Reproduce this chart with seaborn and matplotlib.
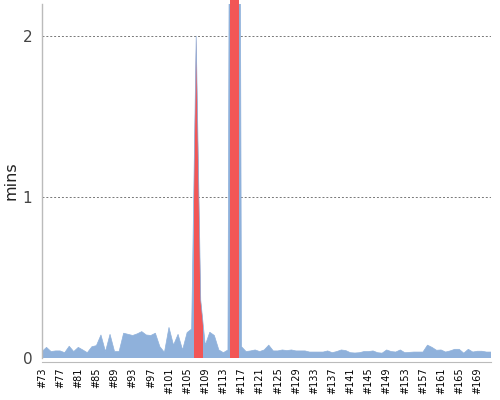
import matplotlib
matplotlib.use("Agg")
import matplotlib.pyplot as plt
from matplotlib.patches import Rectangle
import numpy as np
import pandas as pd
import seaborn as sns

# build numbers #73 .. #172
builds = ["#%d" % n for n in range(73, 173)]
minutes = [
    0.04, 0.066, 0.04, 0.044, 0.044, 0.033, 0.073, 0.04, 0.066, 0.05,
    0.033, 0.07, 0.077, 0.143, 0.04, 0.147, 0.04, 0.04, 0.154, 0.147,
    0.14, 0.15, 0.164, 0.143, 0.14, 0.154, 0.07, 0.035, 0.19, 0.08,
    0.147, 0.05, 0.158, 0.18, 2.0, 0.36, 0.08, 0.16, 0.14, 0.05,
    0.033, 0.05, 9.0, 9.0, 0.07, 0.04, 0.044, 0.05, 0.04, 0.05,
    0.08, 0.044, 0.044, 0.05, 0.046, 0.05, 0.044, 0.044, 0.044, 0.037,
    0.037, 0.037, 0.037, 0.044, 0.033, 0.04, 0.05, 0.046, 0.033, 0.031,
    0.033, 0.04, 0.04, 0.044, 0.033, 0.03, 0.05, 0.04, 0.037, 0.05,
    0.033, 0.035, 0.037, 0.037, 0.037, 0.08, 0.066, 0.048, 0.05, 0.037,
    0.044, 0.054, 0.054, 0.03, 0.054, 0.037, 0.042, 0.042, 0.037, 0.037,
]
# highlighted (failed) stretches, in build-index units
fail_start = [33.45, 41.45]
fail_width = [2.0, 2.0]

BLUE = "#8fb1db"
RED = "#f25656"

df = pd.DataFrame({"build": builds, "mins": minutes})
df["pos"] = np.arange(len(df))

sns.set_style("white")
plt.rcParams["font.family"] = ["DejaVu Sans"]

fig = plt.figure(figsize=(5, 4), dpi=100)
ax = fig.add_axes([0.084, 0.105, 0.898, 0.885])

ax.fill_between(df["pos"], 0, df["mins"], color=BLUE, linewidth=0)
sns.lineplot(data=df, x="pos", y="mins", ax=ax, color=BLUE, linewidth=0.5)

for x0, w in zip(fail_start, fail_width):
    red = ax.fill_between(df["pos"], 0, df["mins"], color=RED, linewidth=0)
    clip = Rectangle((x0, 0), w, 100, transform=ax.transData)
    red.set_clip_path(clip)

ax.set_xlim(0, len(df) - 1)
ax.set_ylim(0, 2.2)

ax.set_yticks([0, 1, 2])
ax.set_yticklabels(["0", "1", "2"])
for yv in [1, 2]:
    ax.axhline(yv, color="#777777", linestyle=(0, (2, 2)), linewidth=0.7, zorder=0)

ax.set_xticks(df["pos"])
ax.set_xticklabels([b if i % 4 == 0 else "" for i, b in enumerate(builds)],
                   fontweight="bold")
ax.tick_params(axis="x", length=2.5, width=0.6, color="#999999", pad=1.5,
               direction="out", labelrotation=90, labelsize=7, labelcolor="black")
ax.tick_params(axis="y", length=0, pad=7, labelsize=11, labelcolor="#444444")

ax.set_xlabel("")
ax.set_ylabel("mins", fontsize=11.5, color="#222222", labelpad=3)

for s in ["top", "right"]:
    ax.spines[s].set_visible(False)
ax.spines["left"].set_color("#bbbbbb")
ax.spines["left"].set_linewidth(1)
ax.spines["bottom"].set_position(("outward", 3))
ax.spines["bottom"].set_color("#bbbbbb")
ax.spines["bottom"].set_linewidth(0.8)

fig.savefig("out.png", dpi=100)
